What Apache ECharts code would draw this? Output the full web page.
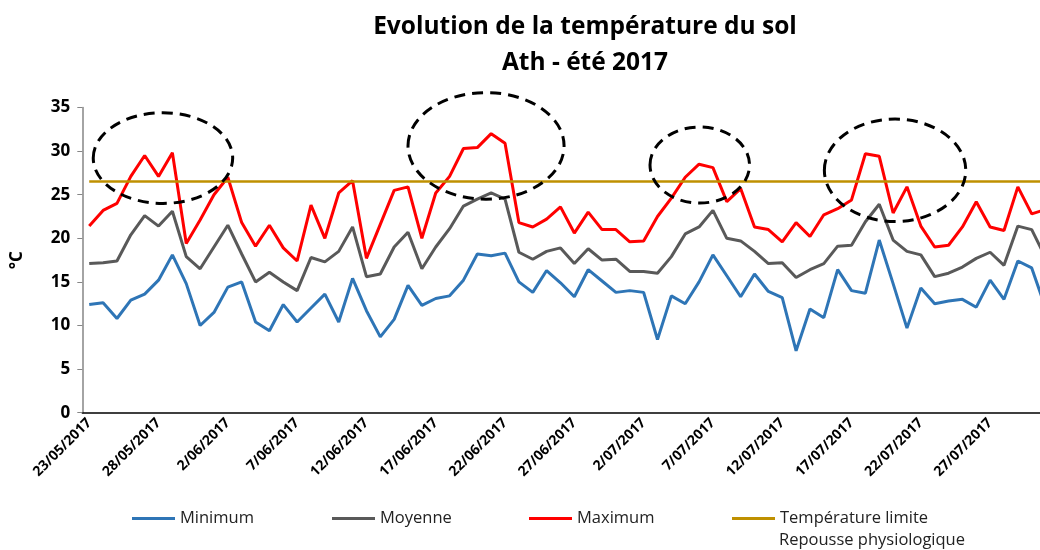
<!DOCTYPE html>
<html style="height: 100%">
<head>
<meta charset="utf-8">
</head>
<body style="height: 100%; margin: 0; background: #fff">
	<div id="container" style="width: 1040px; height: 550px"></div>
	<script type="text/javascript" src="https://cdn.jsdelivr.net/npm/echarts/dist/echarts.min.js"></script>
	<script type="text/javascript">
		// temperatures journalieres du sol, 23/05/2017 -> 31/07/2017
		var minimum = [12.4, 12.6, 10.8, 12.9, 13.6, 15.2, 18.1, 14.8, 10.0, 11.5,
			14.4, 15.0, 10.4, 9.4, 12.4, 10.4, 12.0, 13.6, 10.4, 15.4,
			11.7, 8.7, 10.7, 14.6, 12.3, 13.1, 13.4, 15.2, 18.2, 18.0,
			18.3, 15.0, 13.8, 16.3, 14.9, 13.3, 16.4, 15.1, 13.8, 14.0,
			13.8, 8.4, 13.4, 12.5, 15.0, 18.1, 15.7, 13.3, 15.9, 13.9,
			13.2, 7.1, 11.9, 10.9, 16.4, 14.0, 13.7, 19.8, 14.8, 9.7,
			14.3, 12.5, 12.8, 13.0, 12.1, 15.2, 13.0, 17.4, 16.6, 12.0];
		var moyenne = [17.1, 17.2, 17.4, 20.4, 22.6, 21.4, 23.1, 17.9, 16.5, 19.0,
			21.5, 18.2, 15.0, 16.1, 15.0, 14.0, 17.8, 17.3, 18.5, 21.3,
			15.6, 15.9, 19.0, 20.7, 16.5, 19.0, 21.1, 23.7, 24.5, 25.2,
			24.5, 18.4, 17.6, 18.5, 18.9, 17.1, 18.8, 17.5, 17.6, 16.2,
			16.2, 16.0, 17.9, 20.5, 21.3, 23.2, 20.0, 19.7, 18.5, 17.1,
			17.2, 15.5, 16.4, 17.1, 19.1, 19.2, 21.9, 23.9, 19.8, 18.5,
			18.1, 15.6, 16.0, 16.7, 17.7, 18.4, 16.9, 21.4, 21.0, 17.8];
		var maximum = [21.4, 23.2, 24.0, 27.1, 29.5, 27.1, 29.8, 19.4, 22.1, 25.0,
			27.0, 21.8, 19.1, 21.5, 18.9, 17.4, 23.8, 20.0, 25.2, 26.6,
			17.7, 21.6, 25.5, 25.9, 20.0, 25.2, 27.1, 30.3, 30.4, 32.0,
			30.9, 21.8, 21.3, 22.2, 23.6, 20.6, 23.0, 21.0, 21.0, 19.6,
			19.7, 22.5, 24.6, 27.0, 28.5, 28.1, 24.2, 25.7, 21.3, 21.0,
			19.6, 21.8, 20.2, 22.7, 23.4, 24.4, 29.7, 29.4, 22.9, 25.9,
			21.4, 19.0, 19.2, 21.3, 24.2, 21.3, 20.9, 25.9, 22.8, 23.3];
		var limite = 26.5;
		var yTicks = [0, 5, 10, 15, 20, 25, 30, 35];

		var dates = [];
		for (var i = 0; i < minimum.length; i++) {
			var d = new Date(2017, 4, 23 + i);
			var mm = d.getMonth() + 1;
			dates.push(d.getDate() + '/' + (mm < 10 ? '0' + mm : mm) + '/' + d.getFullYear());
		}

		// ellipses pointillees : centre (jour, degre), demi-axes (jours, degres)
		var ellipses = [
			[5.32, 29.2, 5.03, 5.2],
			[28.63, 30.6, 5.63, 6.11],
			[44.05, 28.4, 3.59, 4.36],
			[58.14, 27.8, 5.1, 5.87]
		];

		var font = 'Open Sans';
		var dom = document.getElementById("container");
		var myChart = echarts.init(dom);

		function legendAt(name, left) {
			return {
				data : [ name ],
				left : left,
				top : 510,
				padding : 0,
				icon : 'rect',
				itemWidth : 43,
				itemHeight : 3,
				itemGap : 0,
				selectedMode : false,
				textStyle : {
					fontFamily : font,
					fontSize : 16.5,
					color : '#222',
					padding : [ 0, 0, 0, 0 ]
				}
			};
		}

		var option = {
			animation : false,
			backgroundColor : '#fff',
			title : {
				text : 'Evolution de la température du sol\nAth - été 2017',
				left : 580,
				textAlign : 'center',
				top : 4,
				textStyle : {
					fontFamily : font,
					fontSize : 24.5,
					fontWeight : 'bold',
					color : '#000',
					lineHeight : 36
				}
			},
			legend : [ legendAt('Minimum', 132), legendAt('Moyenne', 332),
					legendAt('Maximum', 529), legendAt('Température limite', 732) ],
			graphic : [ {
				type : 'text',
				left : 779,
				top : 532,
				style : {
					text : 'Repousse physiologique',
					font : '16.5px "Open Sans"',
					fill : '#222'
				}
			} ],
			grid : {
				left : 82.3,
				width : 970.2,
				top : 107.5,
				bottom : 137.3,
				containLabel : false,
				outerBoundsMode : 'none'
			},
			xAxis : {
				type : 'category',
				data : dates,
				boundaryGap : true,
				axisLine : {
					lineStyle : {
						color : '#000',
						width : 1.5
					}
				},
				axisTick : {
					interval : 4,
					length : 5,
					lineStyle : {
						color : '#000'
					}
				},
				axisLabel : {
					interval : 4,
					rotate : 45,
					margin : 8,
					fontFamily : font,
					fontSize : 14,
					fontWeight : 'bold',
					color : '#000'
				}
			},
			yAxis : {
				type : 'value',
				min : yTicks[0],
				max : yTicks[yTicks.length - 1],
				interval : 5,
				name : '°C',
				nameLocation : 'middle',
				nameRotate : 90,
				nameGap : 57,
				nameTextStyle : {
					fontFamily : font,
					fontSize : 17,
					fontWeight : 'bold',
					color : '#000'
				},
				axisLine : {
					show : true,
					lineStyle : {
						color : '#868686',
						width : 1.5
					}
				},
				axisTick : {
					show : true,
					length : 5,
					lineStyle : {
						color : '#868686'
					}
				},
				splitLine : {
					show : false
				},
				axisLabel : {
					margin : 12,
					fontFamily : font,
					fontSize : 17,
					fontWeight : 'bold',
					color : '#000'
				}
			},
			series : [ {
				name : 'Minimum',
				type : 'line',
				data : minimum,
				symbol : 'none',
				color : '#2E75B6',
				lineStyle : {
					width : 3
				}
			}, {
				name : 'Moyenne',
				type : 'line',
				data : moyenne,
				symbol : 'none',
				color : '#595959',
				lineStyle : {
					width : 3
				}
			}, {
				name : 'Maximum',
				type : 'line',
				data : maximum,
				symbol : 'none',
				color : '#FF0000',
				lineStyle : {
					width : 3
				}
			}, {
				name : 'Température limite',
				type : 'line',
				data : [],
				symbol : 'none',
				color : '#BF9000',
				lineStyle : {
					width : 2.5
				},
				markLine : {
					silent : true,
					symbol : 'none',
					label : {
						show : false
					},
					lineStyle : {
						color : '#BF9000',
						width : 2.5,
						type : 'solid'
					},
					data : [ [ {
						coord : [ dates[0], limite ]
					}, {
						coord : [ dates[dates.length - 1], limite ]
					} ] ]
				}
			}, {
				name : 'cercles',
				type : 'custom',
				z : 5,
				silent : true,
				data : ellipses.map(function(e, idx) {
					return [ idx, 0 ];
				}),
				renderItem : function(params, api) {
					var e = ellipses[params.dataIndex];
					var origin = api.coord([ 0, e[1] ]);
					var dayW = api.size([ 1, 0 ])[0];
					var unitH = api.size([ 0, 1 ])[1];
					return {
						type : 'ellipse',
						shape : {
							cx : origin[0] + e[0] * dayW,
							cy : origin[1],
							rx : e[2] * dayW,
							ry : e[3] * unitH
						},
						style : {
							fill : 'none',
							stroke : '#000',
							lineWidth : 3,
							lineDash : [ 11, 7 ]
						}
					};
				}
			} ]
		};
		myChart.setOption(option);
	</script>
</body>
</html>
